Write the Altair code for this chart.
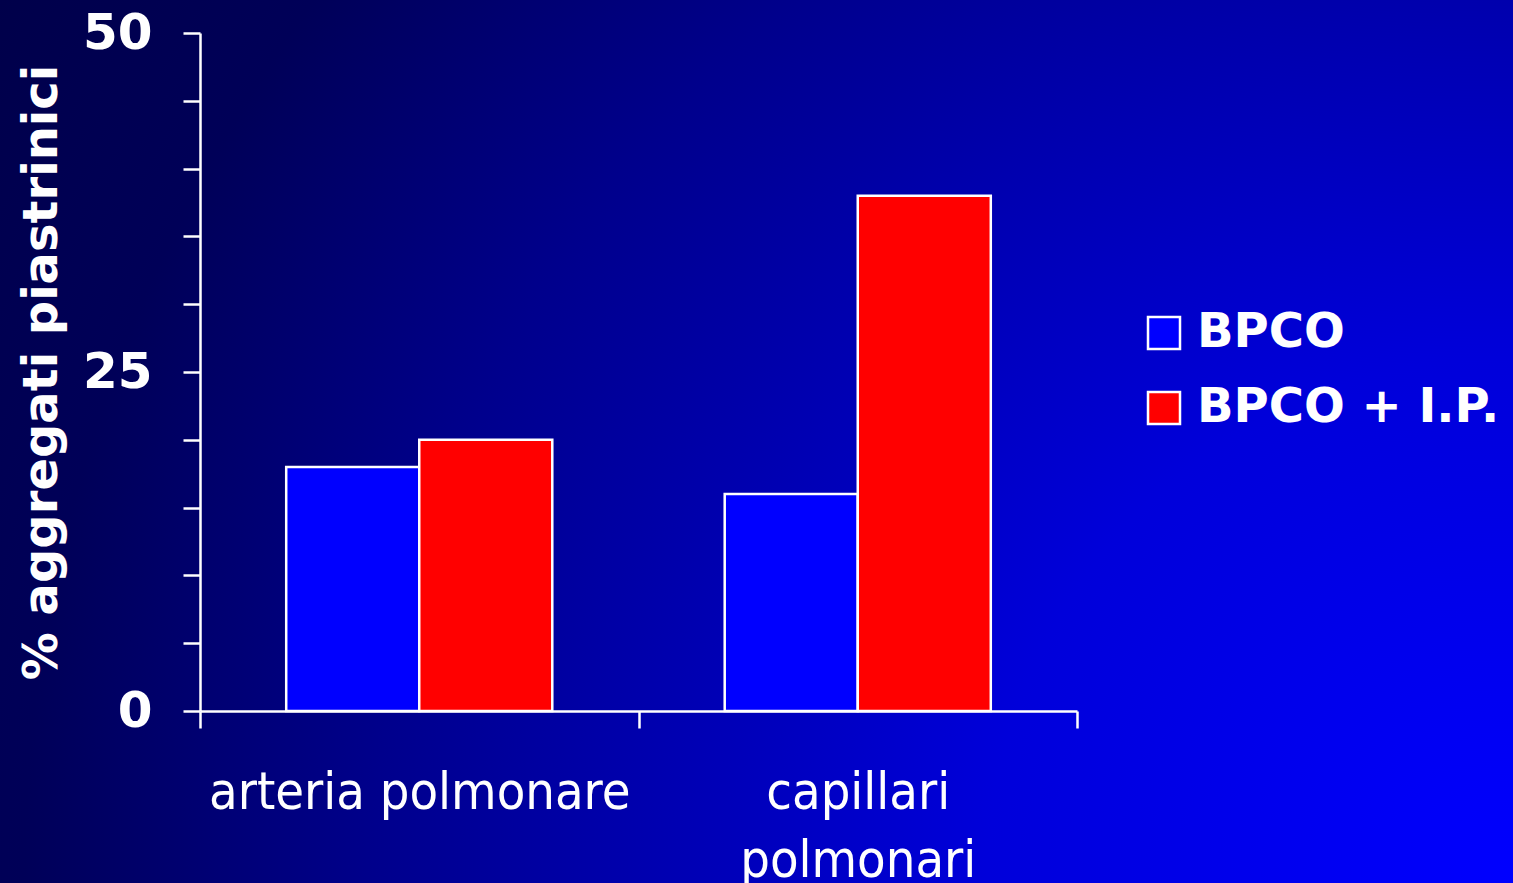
import altair as alt
import pandas as pd

# Platelet aggregate percentages by site and patient group
sites = ["arteria polmonare", "capillari polmonari"]
groups = ["BPCO", "BPCO + I.P."]
values_bpco = [18, 16]
values_bpco_ip = [20, 38]
group_colors = ["#0000FF", "#FF0000"]

rows = []
for i, site in enumerate(sites):
    rows.append({"sito": site, "gruppo": groups[0], "valore": values_bpco[i]})
    rows.append({"sito": site, "gruppo": groups[1], "valore": values_bpco_ip[i]})
df = pd.DataFrame(rows)

W, H = 877, 678
PAD = {"left": 200, "top": 33, "right": 436, "bottom": 172}

# Slide-style backdrop: radial glow from the lower-right corner
backdrop = alt.Chart(pd.DataFrame({"bg": [0]})).mark_rect(
    fill=alt.Gradient(
        gradient="radial",
        stops=[
            alt.GradientStop(color="#0000FF", offset=0.0),
            alt.GradientStop(color="#0000DA", offset=0.3),
            alt.GradientStop(color="#0000AE", offset=0.5),
            alt.GradientStop(color="#00008C", offset=0.65),
            alt.GradientStop(color="#000058", offset=0.85),
            alt.GradientStop(color="#00004A", offset=1.0),
        ],
        x1=1, y1=1, r1=0, x2=1, y2=1, r2=1,
    ),
    clip=False,
).encode(
    x=alt.value(-439), x2=alt.value(1313),
    y=alt.value(-902), y2=alt.value(850),
)

bars = alt.Chart(df).mark_bar(stroke="white", strokeWidth=2.5).encode(
    x=alt.X(
        "sito:N",
        sort=sites,
        scale=alt.Scale(paddingInner=0, paddingOuter=0),
        axis=alt.Axis(
            title=None,
            labelAngle=0,
            tickBand="extent",
            tickSize=17,
            labelPadding=39,
            labelFont="DejaVu Sans Condensed",
            labelFontSize=52,
            labelFontWeight="normal",
            labelBaseline="top",
            labelLineHeight=68,
            labelLimit=800,
            labelExpr="datum.label == 'capillari polmonari' ? split(datum.label, ' ') : datum.label",
            zindex=1,
        ),
    ),
    xOffset=alt.XOffset(
        "gruppo:N",
        sort=groups,
        scale=alt.Scale(paddingInner=0, paddingOuter=0.648),
    ),
    y=alt.Y(
        "valore:Q",
        scale=alt.Scale(domain=[0, 50], nice=False),
        axis=alt.Axis(
            title="% aggregati piastrinici",
            values=[0, 5, 10, 15, 20, 25, 30, 35, 40, 45, 50],
            labelExpr="datum.value % 25 == 0 ? datum.label : ''",
            tickSize=17,
            labelPadding=31,
            labelFont="DejaVu Sans",
            labelFontSize=50,
            labelFontWeight="bold",
            labelBaseline="middle",
            titleFont="DejaVu Sans",
            titleFontSize=48,
            titleFontWeight="bold",
            titleAngle=270,
            titleBaseline="alphabetic",
            titleAlign="center",
            titleX=-144,
            titleY=339,
            zindex=1,
        ),
    ),
    fill=alt.Fill(
        "gruppo:N",
        sort=groups,
        scale=alt.Scale(domain=groups, range=group_colors),
        legend=alt.Legend(
            title=None,
            orient="none",
            legendX=940,
            legendY=276,
            symbolType="square",
            symbolSize=1024,
            symbolStrokeColor="white",
            symbolStrokeWidth=2.5,
            symbolOpacity=1,
            labelFont="DejaVu Sans",
            labelFontSize=48,
            labelFontWeight="bold",
            labelColor="white",
            labelOffset=9,
            labelLimit=600,
            rowPadding=27,
            padding=0,
            zindex=1,
        ),
    ),
)

chart = alt.layer(backdrop, bars).properties(
    width=W,
    height=H,
    padding=PAD,
    autosize=alt.AutoSizeParams(type="none"),
    background="#000060",
).configure_view(
    stroke=None,
).configure_axis(
    grid=False,
    domainColor="white",
    domainWidth=2.5,
    tickColor="white",
    tickWidth=2.5,
    labelColor="white",
    titleColor="white",
)

chart.save("out.html", embed_options={"renderer": "svg", "actions": False})
